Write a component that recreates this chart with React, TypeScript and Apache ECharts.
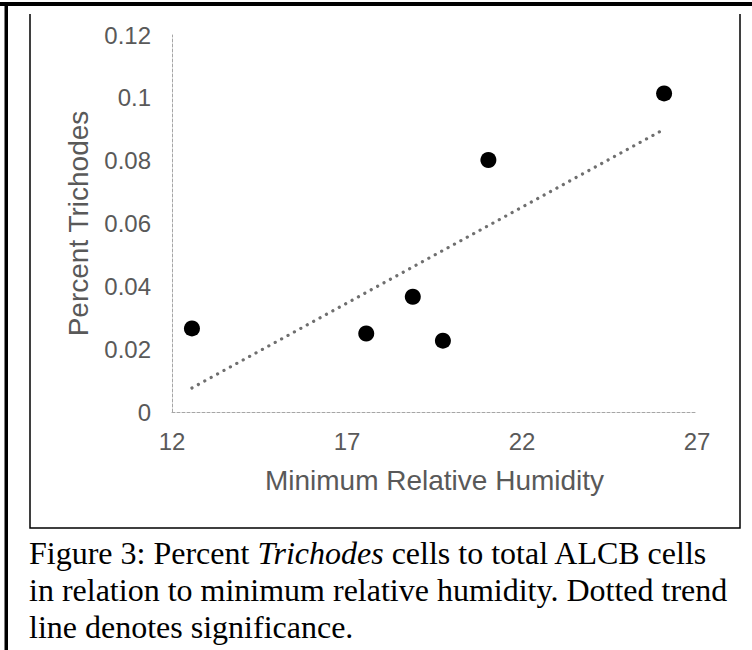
import React, { useEffect, useRef } from "react";
import * as echarts from "echarts";

// Data
const humidity = [12.57, 17.55, 18.88, 19.74, 21.04, 26.06];
const percentTrichodes = [0.0266, 0.025, 0.0367, 0.0227, 0.0802, 0.1014];
const xTicks = [12, 17, 22, 27];
const yTicks = [0, 0.02, 0.04, 0.06, 0.08, 0.1, 0.12];
const xAxisTitle = "Minimum Relative Humidity";
const yAxisTitle = "Percent Trichodes";
const captionLines = [
  "Figure 3: Percent {it|Trichodes} cells to total ALCB cells",
  "in relation to minimum relative humidity. Dotted trend",
  "line denotes significance.",
];

const SANS = "Liberation Sans";
const SERIF = "Liberation Serif";
const GRAY = "#595959";

export default function App() {
  const ref = useRef<HTMLDivElement>(null);

  useEffect(() => {
    const chart = echarts.init(ref.current!, null, { renderer: "svg" });

    // least-squares trend line from the data
    const n = humidity.length;
    const mx = humidity.reduce((a, b) => a + b, 0) / n;
    const my = percentTrichodes.reduce((a, b) => a + b, 0) / n;
    let sxy = 0;
    let sxx = 0;
    humidity.forEach((x, i) => {
      sxy += (x - mx) * (percentTrichodes[i] - my);
      sxx += (x - mx) * (x - mx);
    });
    const slope = sxy / sxx;
    const intercept = my - slope * mx;
    const trendX = [Math.min(...humidity), Math.max(...humidity)];
    const trend = trendX.map((x) => [x, intercept + slope * x]);

    const captionGraphics = captionLines.map((t, i) => ({
      type: "text",
      x: 29,
      y: 553 + i * 37,
      style: {
        text: t,
        fontSize: 32,
        fontFamily: SERIF,
        fill: "#000",
        align: "left",
        verticalAlign: "middle",
        textAlign: "left",
        textVerticalAlign: "middle",
        rich: {
          it: { fontSize: 32, fontFamily: SERIF, fontStyle: "italic", fill: "#000" },
        },
      },
    }));

    chart.setOption({
      animation: false,
      grid: {
        left: 172,
        top: 35,
        width: 525,
        height: 377,
        containLabel: false,
        outerBoundsMode: "none",
      },
      xAxis: {
        type: "value",
        min: xTicks[0],
        max: xTicks[xTicks.length - 1],
        interval: xTicks[1] - xTicks[0],
        name: xAxisTitle,
        nameLocation: "middle",
        nameGap: 54,
        nameTextStyle: { fontFamily: SANS, fontSize: 28, color: GRAY },
        axisLine: { show: true, lineStyle: { color: "#a6a6a6", width: 1, type: [3, 2] } },
        axisTick: { show: false },
        splitLine: { show: false },
        axisLabel: { fontFamily: SANS, fontSize: 24, color: GRAY, margin: 17 },
      },
      yAxis: {
        type: "value",
        min: yTicks[0],
        max: yTicks[yTicks.length - 1],
        interval: yTicks[1] - yTicks[0],
        name: yAxisTitle,
        nameLocation: "middle",
        nameRotate: 90,
        nameGap: 80,
        nameTextStyle: { fontFamily: SANS, fontSize: 28, color: GRAY },
        axisLine: { show: true, lineStyle: { color: "#a6a6a6", width: 1, type: [3, 2] } },
        axisTick: { show: false },
        splitLine: { show: false },
        axisLabel: {
          fontFamily: SANS,
          fontSize: 24,
          color: GRAY,
          margin: 21,
          formatter: (v: number) => String(+v.toFixed(2)),
        },
      },
      series: [
        {
          type: "line",
          data: trend,
          symbol: "none",
          silent: true,
          z: 1,
          lineStyle: { color: "#6f6f6f", width: 3.2, type: [0.1, 7.2], cap: "round", opacity: 1 },
        },
        {
          type: "scatter",
          data: humidity.map((x, i) => [x, percentTrichodes[i]]),
          symbol: "circle",
          symbolSize: 16,
          z: 2,
          itemStyle: { color: "#000", opacity: 1 },
        },
      ],
      graphic: [
        { type: "rect", shape: { x: 0, y: 2, width: 752, height: 4 }, style: { fill: "#000" } },
        { type: "rect", shape: { x: 4.5, y: 2, width: 3.5, height: 648 }, style: { fill: "#000" } },
        {
          type: "polyline",
          shape: { points: [[30, 14], [30, 528], [740, 528], [740, 14]] },
          style: { stroke: "#000", lineWidth: 1.5, fill: "none" },
        },
        ...captionGraphics,
      ],
    });

    return () => chart.dispose();
  }, []);

  return (
    <div
      ref={ref}
      style={{ position: "absolute", left: 0, top: 0, width: 752, height: 650, background: "#fff" }}
    />
  );
}
